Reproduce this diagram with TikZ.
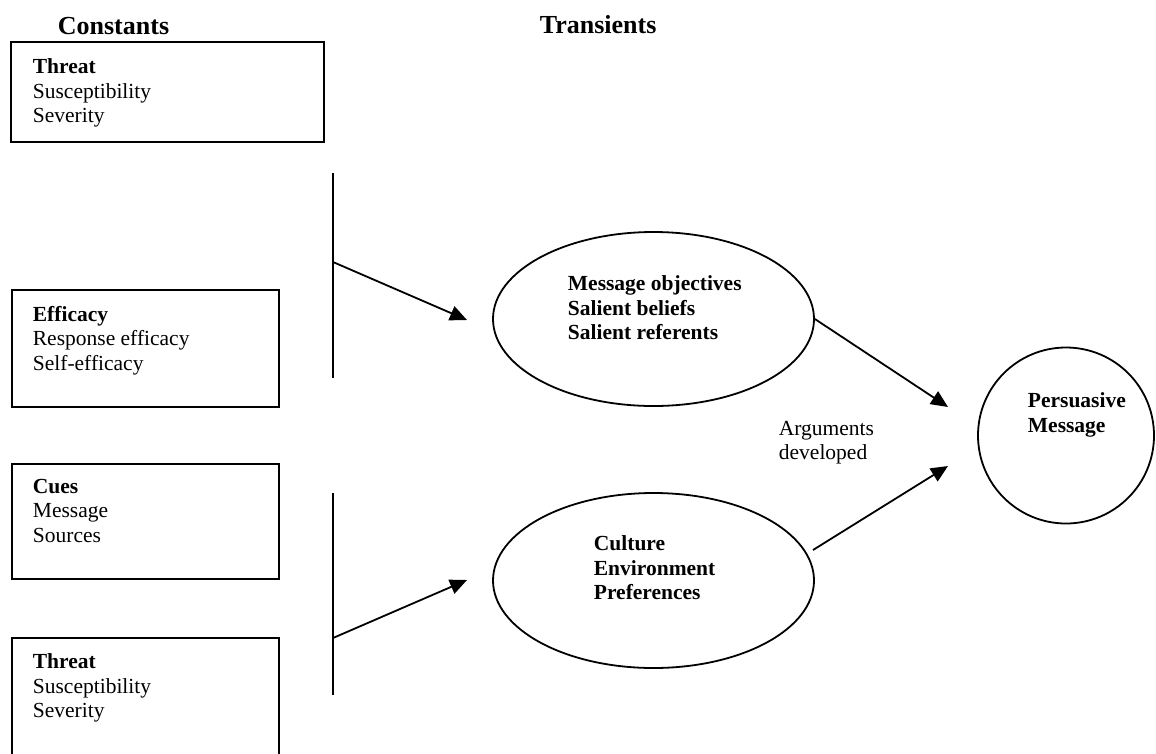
\documentclass[tikz,border=0pt]{standalone}
\usepackage{fontspec}
\setmainfont{Liberation Serif}
\usetikzlibrary{arrows.meta,shapes.geometric}

\tikzset{
  heading/.style={font=\fontsize{26}{30}\selectfont\bfseries,anchor=base west,inner sep=0pt},
  txt/.style={font=\fontsize{21.5}{24.5}\selectfont,align=left,anchor=north west,inner sep=0pt},
  frame/.style={draw,inner sep=0pt},
}

\begin{document}
\begin{tikzpicture}[x=1pt,y=-1pt,>={Triangle[length=17pt,width=15pt]},line width=1.8pt]
\useasboundingbox (0,0) rectangle (1156,753);
% headings
\node[heading] (const) at (57,34) {Constants};
\node[heading] (trans) at (539,33) {Transients};
% constant boxes
\node[frame,minimum width=313pt,minimum height=100pt] (threatA) at (167.5,92) {};
\node[frame,minimum width=267pt,minimum height=117pt] (effic) at (145.5,348.5) {};
\node[frame,minimum width=267pt,minimum height=115pt] (cues) at (145.5,521.5) {};
\node[frame,minimum width=267pt,minimum height=122pt] (threatB) at (145.5,699) {};
\node[txt] (threatAtxt) at (32,58) {\textbf{Threat}\\Susceptibility\\Severity};
\node[txt] (effictxt) at (32,305) {\textbf{Efficacy}\\Response efficacy\\Self-efficacy};
\node[txt] (cuestxt) at (32,478) {\textbf{Cues}\\Message\\Sources};
\node[txt] (threatBtxt) at (32,653) {\textbf{Threat}\\Susceptibility\\Severity};
% transients
\node[draw,ellipse,minimum width=321pt,minimum height=174pt,inner sep=0pt] (goals) at (653.5,319) {};
\node[draw,ellipse,minimum width=321pt,minimum height=175pt,inner sep=0pt] (context) at (653.5,580.5) {};
\node[txt,font=\fontsize{21.5}{24.5}\selectfont\bfseries] (goalstxt) at (567,275) {Message objectives\\Salient beliefs\\Salient referents};
\node[txt,font=\fontsize{21.5}{24.5}\selectfont\bfseries] (contexttxt) at (593,535) {Culture\\Environment\\Preferences};
\node[draw,circle,minimum size=176pt,inner sep=0pt] (msg) at (1066,435.5) {};
\node[txt,font=\fontsize{21.5}{24.5}\selectfont\bfseries] (msgtxt) at (1027,392) {Persuasive\\Message};
\node[txt] (args) at (778,420) {Arguments\\developed};
% bars and arrows
\coordinate (bar1top) at (333,173);
\coordinate (bar1bot) at (333,378);
\coordinate (bar1mid) at (333,262);
\coordinate (tip1) at (467,320);
\coordinate (bar2top) at (333,493);
\coordinate (bar2bot) at (333,695);
\coordinate (bar2mid) at (333,638);
\coordinate (tip2) at (467,580);
\coordinate (start4) at (813,550);
\coordinate (tip3) at (948,407);
\coordinate (tip4) at (948,466);
\draw (bar1top) -- (bar1bot);
\draw (bar2top) -- (bar2bot);
\draw[->] (bar1mid) -- (tip1);
\draw[->] (bar2mid) -- (tip2);
\draw[->] (goals.east) -- (tip3);
\draw[->] (start4) -- (tip4);
\end{tikzpicture}
\end{document}
